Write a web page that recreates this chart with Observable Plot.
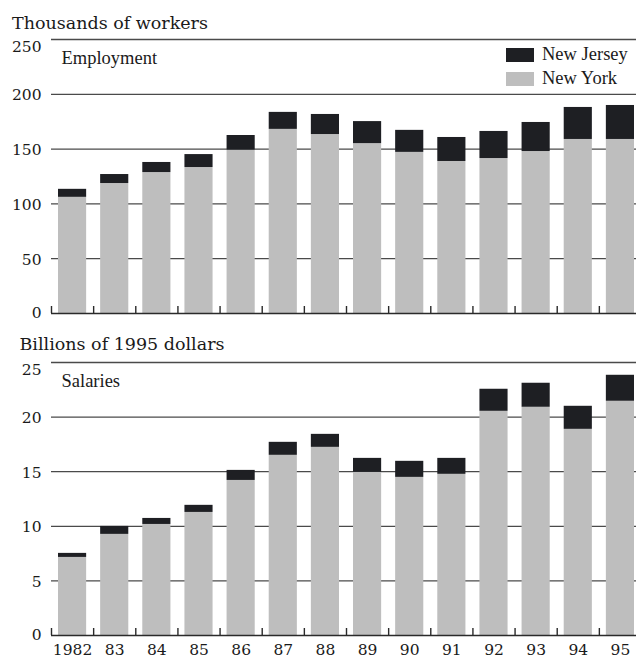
<!DOCTYPE html>
<html><head><meta charset="utf-8">
<script src="https://cdn.jsdelivr.net/npm/d3@7"></script>
<script src="https://cdn.jsdelivr.net/npm/@observablehq/plot@0.6"></script>
<style>
body{margin:0;background:#fff;}
#wrap{position:relative;width:636px;height:658px;background:#fff;overflow:hidden;}
.title{position:absolute;font-family:"DejaVu Serif";font-size:17.5px;line-height:17.5px;color:#1a1a1a;white-space:nowrap;}
.chart{position:absolute;left:0;}
.chart svg{display:block;}
.leg{position:absolute;font-family:"Liberation Serif";font-size:18.5px;line-height:18.5px;color:#1a1a1a;white-space:nowrap;}
.sw{position:absolute;width:28px;height:14px;}
</style></head><body>
<div id="wrap">
  <div class="title" id="t1" style="left:12px;top:14.5px"></div>
  <div class="chart" id="c1" style="top:30px"></div>
  <div class="title" id="t2" style="left:19.5px;top:336px"></div>
  <div class="chart" id="c2" style="top:355px"></div>
  <div id="legend"></div>
</div>
<script>
// ---- data ----
const years = [1982,1983,1984,1985,1986,1987,1988,1989,1990,1991,1992,1993,1994,1995];
const yearLabels = ["1982","83","84","85","86","87","88","89","90","91","92","93","94","95"];
const series = ["New York","New Jersey"];
const seriesColors = ["#bebebe","#1e1f23"];
const legendOrder = ["New Jersey","New York"];
const titles = ["Thousands of workers","Billions of 1995 dollars"];
const panelLabels = ["Employment","Salaries"];

const employmentNY = [106,118.6,128.6,133.2,149,168,163.3,155,147,138.7,141.4,147.8,158.8,158.8];
const employmentNJ = [7.3,8.2,9.2,11.8,13.4,15.5,18.3,20.1,20.1,21.9,24.7,26.5,29.2,31.0];
const employmentTicks = [0,50,100,150,200,250];

const salariesNY = [7.15,9.26,10.17,11.27,14.2,16.5,17.23,14.94,14.48,14.76,20.53,20.9,18.88,21.45];
const salariesNJ = [0.37,0.73,0.55,0.65,0.92,1.19,1.19,1.28,1.47,1.46,2.02,2.2,2.11,2.38];
const salariesTicks = [0,5,10,15,20,25];

// ---- chart ----
function makeChart({ny, nj, ticks, label, height, marginTop, marginBottom, showYears}) {
  const rows = years.flatMap((y, i) => [
    {year: y, state: series[0], value: ny[i]},
    {year: y, state: series[1], value: nj[i]}
  ]);
  const innerH = height - marginTop - marginBottom;
  const marks = [
    Plot.ruleY(ticks.filter(t => t > 0), {stroke: "#4a4a4a", strokeWidth: 1.3}),
    Plot.rectY(rows, {x1: d => d.year - 0.5, x2: d => d.year + 0.5, y: "value", fill: "state", insetLeft: 7, insetRight: 7}),
    Plot.ruleY([0], {stroke: "#2a2a2a", strokeWidth: 1.6}),
    Plot.ruleX(years, {x: d => d - 0.5, insetTop: innerH - 7, stroke: "#2a2a2a", strokeWidth: 1.4}),
    Plot.axisY([ticks[ticks.length - 1]], {tickSize: 0, tickPadding: 10, lineAnchor: "top", dy: 1}),
    Plot.axisY(ticks.slice(1, -1), {tickSize: 0, tickPadding: 10, dy: 1}),
    Plot.axisY([ticks[0]], {tickSize: 0, tickPadding: 10, lineAnchor: "bottom", dy: 4}),
    Plot.text([label], {text: d => d, frameAnchor: "top-left", dx: 10, dy: 11, lineAnchor: "top", textAnchor: "start",
      fontFamily: "Liberation Serif", fontSize: 18.5, fill: "#1a1a1a"})
  ];
  if (showYears) {
    marks.push(Plot.axisX(years, {tickSize: 0, tickPadding: 8, tickFormat: d => yearLabels[years.indexOf(d)]}));
  }
  return Plot.plot({
    width: 636,
    height,
    marginLeft: 51,
    marginRight: 0,
    marginTop,
    marginBottom,
    style: {fontFamily: "DejaVu Serif", fontSize: "15.5px", color: "#1a1a1a", background: "white", overflow: "visible"},
    x: {type: "linear", domain: [years[0] - 0.5, years[years.length - 1] + 0.5], range: [51, 641], axis: showYears ? undefined : null, label: null},
    y: {domain: [ticks[0], ticks[ticks.length - 1]], label: null},
    color: {domain: series, range: seriesColors},
    marks
  });
}

document.getElementById("t1").textContent = titles[0];
document.getElementById("t2").textContent = titles[1];

document.getElementById("c1").append(makeChart({
  ny: employmentNY, nj: employmentNJ, ticks: employmentTicks, label: panelLabels[0],
  height: 300, marginTop: 9, marginBottom: 17, showYears: false
}));
document.getElementById("c2").append(makeChart({
  ny: salariesNY, nj: salariesNJ, ticks: salariesTicks, label: panelLabels[1],
  height: 303, marginTop: 7, marginBottom: 23, showYears: true
}));

// legend
const leg = document.getElementById("legend");
legendOrder.forEach((name, i) => {
  const sw = document.createElement("div");
  sw.className = "sw";
  sw.style.left = "506px";
  sw.style.top = (48 + i * 24) + "px";
  sw.style.background = seriesColors[series.indexOf(name)];
  const tx = document.createElement("div");
  tx.className = "leg";
  tx.style.left = "542px";
  tx.style.top = (44.5 + i * 24) + "px";
  tx.textContent = name;
  leg.append(sw, tx);
});
</script>
</body></html>
